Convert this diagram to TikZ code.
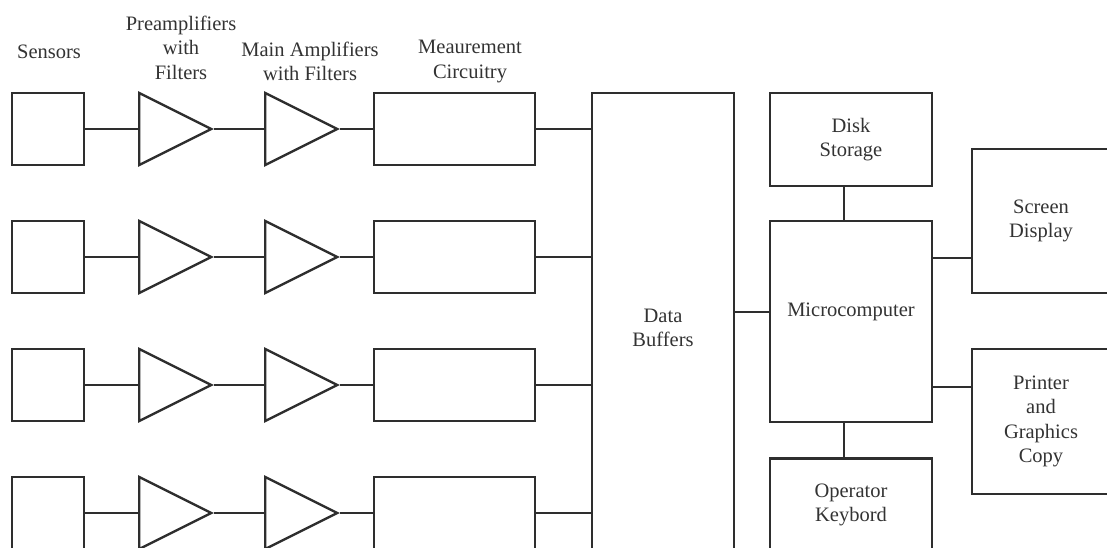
\documentclass[tikz,border=0pt]{standalone}
\usepackage{fontspec}
\setmainfont{Liberation Serif}
\usetikzlibrary{shapes.geometric,calc}
\begin{document}
\begin{tikzpicture}[x=1pt,y=-1pt,
  ln/.style={line width=2.4pt, draw=black!82},
  txt/.style={align=center, text=black!80, font=\fontsize{20.5}{24.5}\selectfont},
  box/.style={ln, rectangle, inner sep=0pt, txt},
  amp/.style={ln, isosceles triangle, isosceles triangle stretches, minimum width=72pt, minimum height=72pt, inner sep=0pt, anchor=lower side},
  lbl/.style={txt, inner sep=0pt}]
\useasboundingbox (0,0) rectangle (1107,548);
\clip (0,0) rectangle (1107,548);
\fill[white] (0,0) rectangle (1107,548);

% header labels
\node[lbl] (hsens) at (49,52) {Sensors};
\node[lbl] (hpre) at (181,47.5) {Preamplifiers\\with\\Filters};
\node[lbl] (hmain) at (310,61.5) {Main Amplifiers\\with Filters};
\node[lbl] (hmeas) at (470,61.5) {Meaurement\\Circuitry};

% signal rows
\foreach \r/\y in {1/129,2/257,3/385,4/513} {
  \node[box, minimum width=72pt, minimum height=72pt] (s\r) at (48,\y) {};
  \node[amp] (a\r) at (138,\y) {};
  \node[amp] (b\r) at (264,\y) {};
  \node[box, minimum width=161pt, minimum height=72pt] (m\r) at (454.5,\y) {};
}

% main blocks
\node[box, minimum width=142pt, minimum height=470pt] (db) at (663,328) {Data\\Buffers};
\node[box, minimum width=162pt, minimum height=93pt] (disk) at (851,139.5) {Disk\\Storage};
\node[box, minimum width=162pt, minimum height=201pt] (mc) at (851,321.5) {};
\node[lbl] (mct) at (851,312) {Microcomputer};
\node[box, minimum width=162pt, minimum height=93pt] (kb) at (851,505) {Operator\\Keybord};
\node[box, minimum width=138pt, minimum height=144pt] (scr) at (1041,221) {Screen\\Display};
\node[box, minimum width=138pt, minimum height=145pt] (prn) at (1041,421.5) {Printer\\and\\Graphics\\Copy};

% connectors
\foreach \r in {1,...,4} {
  \draw[ln] (s\r.east) -- (a\r.lower side);
  \draw[ln] (a\r.apex) -- (b\r.lower side);
  \draw[ln] (b\r.apex) -- (m\r.west);
  \draw[ln] (m\r.east) -- (m\r.east -| db.west);
}
\draw[ln] (mct -| db.east) -- (mct -| mc.west);
\coordinate (diskout) at ([xshift=-7pt]disk.south);
\coordinate (mcdown) at ([xshift=-7pt]mc.south);
\coordinate (scrin) at ([yshift=-37pt]scr.west);
\coordinate (prnin) at ([yshift=34.5pt]prn.west);
\draw[ln] (diskout) -- (diskout |- mc.north);
\draw[ln] (mcdown) -- (mcdown |- kb.north);
\draw[ln] (scrin -| mc.east) -- (scrin);
\draw[ln] (prnin -| mc.east) -- (prnin);
\end{tikzpicture}
\end{document}
